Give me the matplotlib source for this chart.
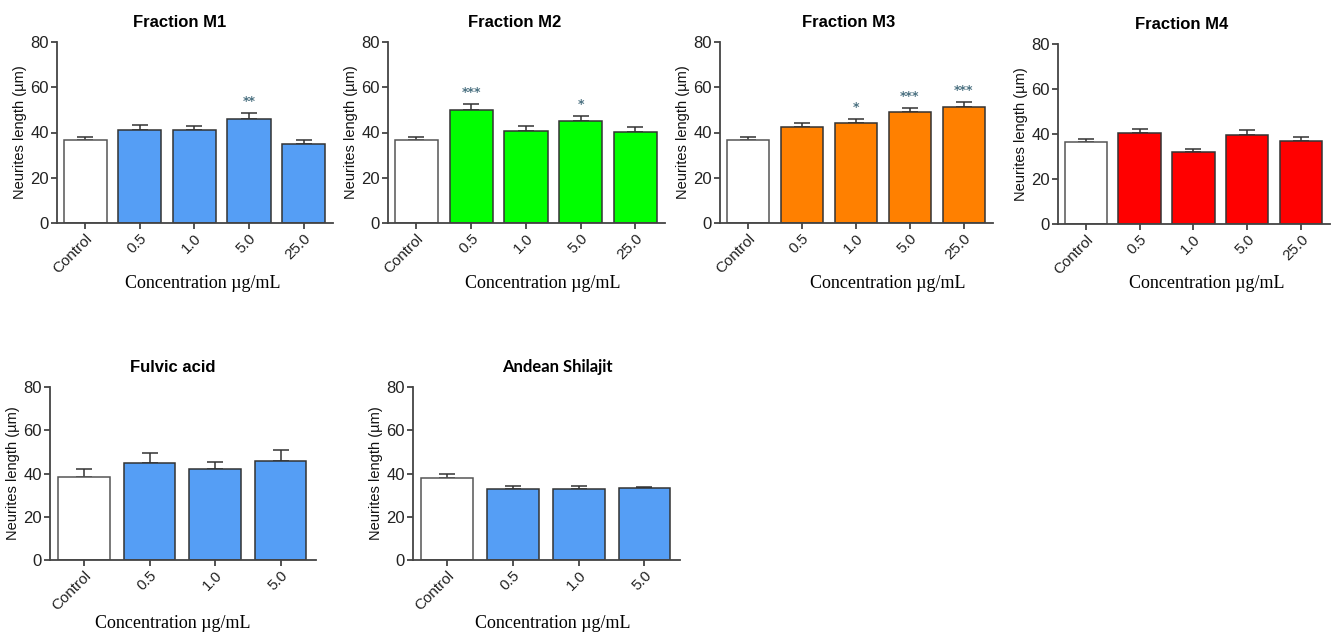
import matplotlib.pyplot as plt

# Data
cats5 = ["Control", "0.5", "1.0", "5.0", "25.0"]
cats4 = ["Control", "0.5", "1.0", "5.0"]

m1_mean = [36.5, 41.0, 41.0, 46.0, 35.0]
m1_err = [1.5, 2.5, 2.0, 2.8, 1.5]
m1_sig = ["", "", "", "**", ""]

m2_mean = [36.5, 50.0, 40.8, 45.3, 40.3]
m2_err = [1.5, 2.8, 2.0, 1.8, 2.0]
m2_sig = ["", "***", "", "*", ""]

m3_mean = [36.5, 42.4, 44.0, 49.0, 51.2]
m3_err = [1.5, 2.0, 1.8, 2.0, 2.3]
m3_sig = ["", "", "*", "***", "***"]

m4_mean = [36.3, 40.4, 31.8, 39.5, 36.8]
m4_err = [1.5, 1.8, 1.5, 2.2, 2.0]
m4_sig = ["", "", "", "", ""]

fa_mean = [38.5, 44.8, 42.2, 46.0]
fa_err = [3.5, 4.5, 3.2, 5.0]
fa_sig = ["", "", "", ""]

as_mean = [37.8, 32.8, 32.8, 33.1]
as_err = [2.2, 1.3, 1.3, 0.8]
as_sig = ["", "", "", ""]

W, H = 1332, 637
fig = plt.figure(figsize=(W / 100, H / 100), dpi=100)

# panel: (title, cats, mean, err, sig, colour, axes px box, title x frac, xlabel centre px, title font)
panels = [
    ("Fraction M1", cats5, m1_mean, m1_err, m1_sig, "#559ef5", (57, 42, 333, 223), 0.446, (203, 283), "Liberation Sans"),
    ("Fraction M2", cats5, m2_mean, m2_err, m2_sig, "#00ff00", (388, 42, 665, 223), 0.458, (543, 283), "Liberation Sans"),
    ("Fraction M3", cats5, m3_mean, m3_err, m3_sig, "#ff8000", (720, 42, 993, 223), 0.47, (888, 283), "Liberation Sans"),
    ("Fraction M4", cats5, m4_mean, m4_err, m4_sig, "#ff0000", (1058, 44, 1330, 224), 0.455, (1207, 283), "Liberation Sans"),
    ("Fulvic acid", cats4, fa_mean, fa_err, fa_sig, "#559ef5", (50, 387, 316, 560), 0.46, (173, 623), "Liberation Sans"),
    ("Andean Shilajit", cats4, as_mean, as_err, as_sig, "#559ef5", (413, 387, 680, 560), 0.54, (553, 623), "Lato"),
]

axcol = "#444444"
for title, cats, mean, err, sig, col, box, tx, xl, tfont in panels:
    x0, y0, x1, y1 = box
    ax = fig.add_axes([x0 / W, 1 - y1 / H, (x1 - x0) / W, (y1 - y0) / H])
    n = len(cats)
    xs = list(range(n))
    colors = ["white"] + [col] * (n - 1)
    ax.bar(xs, mean, width=0.79, color=colors, edgecolor=["#555555"] + ["#333333"] * (n - 1),
           linewidth=1.1, zorder=2)
    ax.errorbar(xs, mean, yerr=[[0] * n, err], fmt="none", ecolor="#333333",
                elinewidth=1.1, capsize=6, capthick=1.1, zorder=1)
    for i in range(n):
        if sig[i]:
            ax.text(xs[i], mean[i] + err[i] + 2.2, sig[i], ha="center", va="bottom",
                    fontsize=9, color="#4a7080", fontweight="bold")
    ax.set_ylim(0, 80)
    ax.set_xlim(-0.52, n - 0.46)
    ax.set_yticks([0, 20, 40, 60, 80])
    ax.set_xticks(xs)
    ax.set_xticklabels(cats, rotation=45, ha="right", rotation_mode="anchor",
                       fontsize=11, family="Liberation Sans", color="#222222")
    for lab in ax.get_yticklabels():
        lab.set_fontsize(12)
        lab.set_family("Liberation Sans")
        lab.set_color("#222222")
    for s in ["top", "right"]:
        ax.spines[s].set_visible(False)
    for s in ["left", "bottom"]:
        ax.spines[s].set_color(axcol)
        ax.spines[s].set_linewidth(1.3)
    ax.tick_params(axis="both", direction="out", color=axcol, width=1.3, length=4, pad=2)
    ax.set_ylabel("Neurites length (µm)", fontsize=10.5, family="Liberation Sans",
                  color="#111111", labelpad=2)
    ax.set_title(title, x=tx, fontsize=12, fontweight="bold", family=tfont, pad=11)
    fig.text(xl[0] / W, 1 - xl[1] / H, "Concentration µg/mL", ha="center", va="center",
             fontsize=13, family="Liberation Serif")

fig.savefig("out.png", dpi=100)
